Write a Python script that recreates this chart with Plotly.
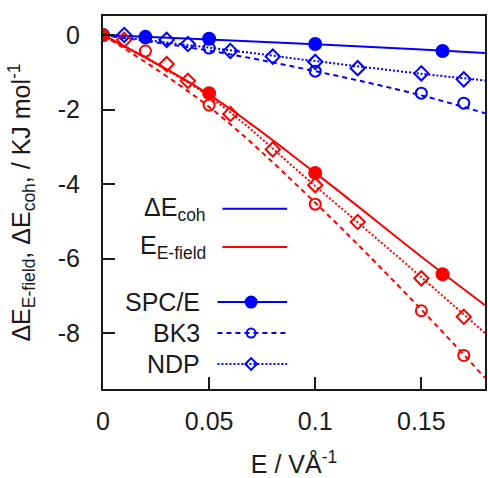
import plotly.graph_objects as go

# ---- measured data (E in V/Å, energies in kJ/mol) ----
# cohesive-energy change (blue)
coh_spce_E = [0.0, 0.02, 0.05, 0.10, 0.16]
coh_spce = [0.0, -0.05, -0.10, -0.24, -0.43]
coh_bk3_E = [0.02, 0.05, 0.10, 0.15, 0.17]
coh_bk3 = [-0.08, -0.35, -0.97, -1.56, -1.83]
coh_ndp_E = [0.01, 0.03, 0.04, 0.06, 0.08, 0.10, 0.12, 0.15, 0.17]
coh_ndp = [0.0, -0.13, -0.24, -0.43, -0.58, -0.72, -0.89, -1.03, -1.19]

# field-interaction energy (red)
fld_spce_E = [0.0, 0.05, 0.10, 0.16]
fld_spce = [0.0, -1.56, -3.70, -6.42]
fld_bk3_E = [0.02, 0.05, 0.10, 0.15, 0.17]
fld_bk3 = [-0.43, -1.88, -4.54, -7.40, -8.60]
fld_ndp_E = [0.01, 0.03, 0.04, 0.06, 0.08, 0.10, 0.12, 0.15, 0.17]
fld_ndp = [-0.13, -0.78, -1.23, -2.12, -3.07, -4.03, -5.02, -6.53, -7.56]

# fitted curves sampled on a common grid
fit_E = [0.0, 0.05, 0.10, 0.15, 0.18]
fit_coh_spce = [0.0, -0.12, -0.25, -0.39, -0.48]
fit_coh_bk3 = [0.0, -0.42, -0.97, -1.62, -2.10]
fit_coh_ndp = [0.0, -0.34, -0.70, -1.04, -1.22]
fit_fld_spce = [0.0, -1.60, -3.70, -5.95, -7.25]
fit_fld_bk3 = [0.0, -1.93, -4.50, -7.37, -9.20]
fit_fld_ndp = [0.0, -1.65, -4.05, -6.50, -8.00]

x_ticks = [0, 0.05, 0.10, 0.15]
x_tick_text = ["0", "0.05", "0.1", "0.15"]
y_ticks = [0, -2, -4, -6, -8]
y_tick_text = ["0", "-2", "-4", "-6", "-8"]

BLUE = "#0000ff"
RED = "#ff0000"
INK = "#1a1a1a"
FONT = "Liberation Sans, Arial, sans-serif"
FS = 25

styles = {
    "SPC/E": dict(dash="solid", symbol="circle", size=12, key_size=11),
    "BK3": dict(dash="5px,4px", symbol="circle-open", size=11, key_size=9),
    "NDP": dict(dash="2px,2px", symbol="diamond-open", size=11, key_size=9),
}

fig = go.Figure()


def add_series(E, vals, fE, fvals, color, model):
    st = styles[model]
    fig.add_trace(go.Scatter(
        x=fE, y=fvals, mode="lines", line_shape="spline",
        line=dict(color=color, width=2, dash=st["dash"]),
        showlegend=False, hoverinfo="skip"))
    fig.add_trace(go.Scatter(
        x=E, y=vals, mode="markers",
        marker=dict(symbol=st["symbol"], size=st["size"], color=color,
                    line=dict(color=color, width=2)),
        showlegend=False, name=model))


add_series(coh_ndp_E, coh_ndp, fit_E, fit_coh_ndp, BLUE, "NDP")
add_series(coh_bk3_E, coh_bk3, fit_E, fit_coh_bk3, BLUE, "BK3")
add_series(coh_spce_E, coh_spce, fit_E, fit_coh_spce, BLUE, "SPC/E")
add_series(fld_ndp_E, fld_ndp, fit_E, fit_fld_ndp, RED, "NDP")
add_series(fld_bk3_E, fld_bk3, fit_E, fit_fld_bk3, RED, "BK3")
add_series(fld_spce_E, fld_spce, fit_E, fit_fld_spce, RED, "SPC/E")

# ---- key, drawn on an overlay axis spanning the plot area (0..1) ----
key_rows = [
    ("ΔE<sub>coh</sub>", BLUE, None, 0.483, 0.276),
    ("E<sub>E-field</sub>", RED, None, 0.381, 0.276),
    ("SPC/E", BLUE, "SPC/E", 0.233, 0.258),
    ("BK3", BLUE, "BK3", 0.150, 0.258),
    ("NDP", BLUE, "NDP", 0.067, 0.258),
]
annotations = []
for label, color, model, yk, xt in key_rows:
    if model is None:
        x0, x1 = 0.3125, 0.482
        dash = "solid"
    else:
        x0, x1 = 0.2995, 0.482
        dash = styles[model]["dash"]
    fig.add_trace(go.Scatter(
        x=[x0, x1], y=[yk, yk], mode="lines", xaxis="x2", yaxis="y2",
        line=dict(color=color, width=2, dash=dash),
        showlegend=False, hoverinfo="skip"))
    if model is not None:
        st = styles[model]
        fig.add_trace(go.Scatter(
            x=[(x0 + x1) / 2 - 0.003], y=[yk], mode="markers", xaxis="x2", yaxis="y2",
            marker=dict(symbol=st["symbol"], size=st["key_size"], color=color,
                        line=dict(color=color, width=2)),
            showlegend=False, hoverinfo="skip"))
    annotations.append(dict(
        x=xt, y=yk, xref="x2", yref="y2", text=label, showarrow=False,
        xanchor="right", yanchor="middle",
        font=dict(family=FONT, size=FS, color=INK)))

axis_common = dict(
    showline=True, linecolor=INK, linewidth=2, mirror=True,
    ticks="inside", ticklen=12, tickwidth=2, tickcolor=INK,
    showgrid=False, zeroline=False,
    tickfont=dict(family=FONT, size=FS, color=INK),
)

fig.update_layout(
    width=488, height=478,
    margin=dict(l=103, r=1, t=16, b=89),
    plot_bgcolor="white", paper_bgcolor="white",
    showlegend=False,
    xaxis=dict(range=[0, 0.18], tickvals=x_ticks, ticktext=x_tick_text,
               ticklabelstandoff=9,
               title=dict(text="E / VÅ<sup>-1</sup>", standoff=22,
                          font=dict(family=FONT, size=FS, color=INK)),
               **axis_common),
    yaxis=dict(range=[-9.5, 0.51], tickvals=y_ticks, ticktext=y_tick_text,
               ticklabelstandoff=16,
               title=dict(text="ΔE<sub>E-field</sub>, ΔE<sub>coh</sub>, / KJ mol<sup>-1</sup>",
                          standoff=20,
                          font=dict(family=FONT, size=FS, color=INK)),
               **axis_common),
    xaxis2=dict(range=[0, 1], overlaying="x", visible=False, fixedrange=True),
    yaxis2=dict(range=[0, 1], overlaying="y", visible=False, fixedrange=True),
    annotations=annotations,
)

fig.write_html("out.html")
